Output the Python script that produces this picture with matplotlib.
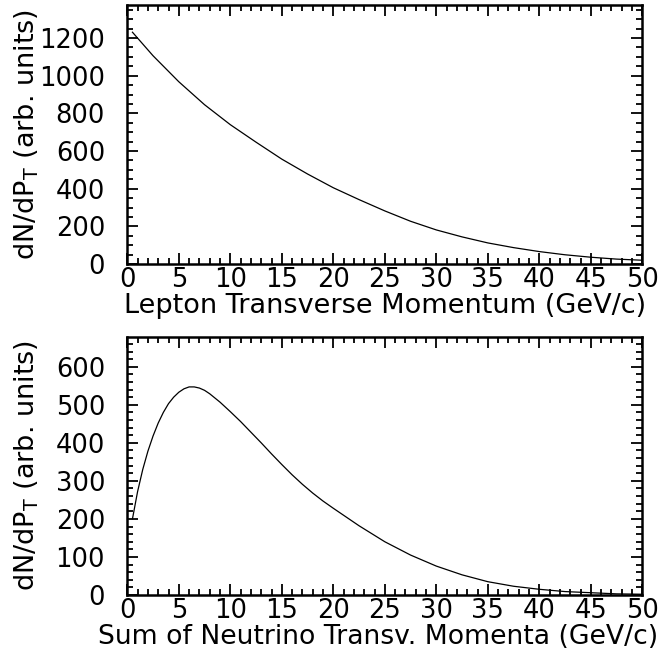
import matplotlib
matplotlib.use("Agg")
import matplotlib.pyplot as plt
from matplotlib.ticker import MultipleLocator

# Top panel: lepton transverse momentum spectrum
lep_pt = [0.5, 2.5, 5, 7.5, 10, 12.5, 15, 17.5, 20, 22.5, 25, 27.5, 30,
          32.5, 35, 37.5, 40, 42.5, 45, 47.5, 50]
lep_dn = [1231, 1106, 968, 846, 740, 647, 557, 478, 405, 342, 282, 227, 181,
          144, 112, 87, 66, 49, 36, 26, 20]

# Bottom panel: sum of neutrino transverse momenta spectrum
nu_pt = [0.5, 1, 1.5, 2, 2.5, 3, 3.5, 4, 4.5, 5, 5.5, 6, 6.5, 7, 7.5, 8, 9,
         10, 11, 12, 13, 14, 15, 16, 17, 18, 19, 20, 22.5, 25, 27.5, 30,
         32.5, 35, 37.5, 40, 42.5, 45, 47.5, 50]
nu_dn = [200, 272, 330, 378, 418, 452, 480, 503, 520, 533, 542, 547, 547,
         544, 538, 529, 507, 482, 456, 428, 400, 371, 343, 316, 291, 268,
         247, 228, 182, 140, 105, 76, 53, 35, 23, 15, 9, 6, 3, 2]

x_ticks = [0, 5, 10, 15, 20, 25, 30, 35, 40, 45, 50]
top_yticks = [0, 200, 400, 600, 800, 1000, 1200]
bot_yticks = [0, 100, 200, 300, 400, 500, 600]

xlabel_top = "Lepton Transverse Momentum (GeV/c)"
xlabel_bot = "Sum of Neutrino Transv. Momenta (GeV/c)"
ylabel = r"dN/dP$_\mathregular{T}$ (arb. units)"

plt.rcParams['font.family'] = ['DejaVu Sans']
plt.rcParams['mathtext.default'] = 'regular'
FS = 18.5
LFS = 19.5

fig = plt.figure(figsize=(6.71, 6.49), dpi=100)
W, H = 671, 649
L, R = 127.3, 642.3
ax1 = fig.add_axes([L / W, 1 - 264 / H, (R - L) / W, (264 - 5.3) / H])
ax2 = fig.add_axes([L / W, 1 - 595 / H, (R - L) / W, (595 - 336.7) / H])

def style(ax, ymax, yminor, yticks, xlabel, xfs, xpos):
    ax.set_xlim(0, 50)
    ax.set_ylim(0, ymax)
    ax.set_xticks(x_ticks)
    ax.set_yticks(yticks)
    ax.xaxis.set_minor_locator(MultipleLocator(1))
    ax.yaxis.set_minor_locator(MultipleLocator(yminor))
    ax.tick_params(which='both', direction='in', top=True, right=True,
                   width=1.3, colors='black')
    ax.tick_params(which='major', length=8)
    ax.tick_params(which='minor', length=4.5)
    ax.tick_params(axis='x', which='major', labelsize=FS, pad=2)
    ax.tick_params(axis='y', which='major', labelsize=FS, pad=16)
    for s in ax.spines.values():
        s.set_linewidth(1.8)
    ax.set_xlabel(xlabel, fontsize=xfs, labelpad=0)
    ax.xaxis.label.set_x(xpos)
    ax.set_ylabel(ylabel, fontsize=LFS, va='center', ha='center')
    ax.yaxis.set_label_coords(-0.195, 0.5)

ax1.plot(lep_pt, lep_dn, color='black', lw=0.9)
ax2.plot(nu_pt, nu_dn, color='black', lw=0.9)
style(ax1, 1374, 50, top_yticks, xlabel_top, LFS, 0.5)
style(ax2, 679, 20, bot_yticks, xlabel_bot, 19.2, 0.487)

fig.savefig("out.png", dpi=100)
